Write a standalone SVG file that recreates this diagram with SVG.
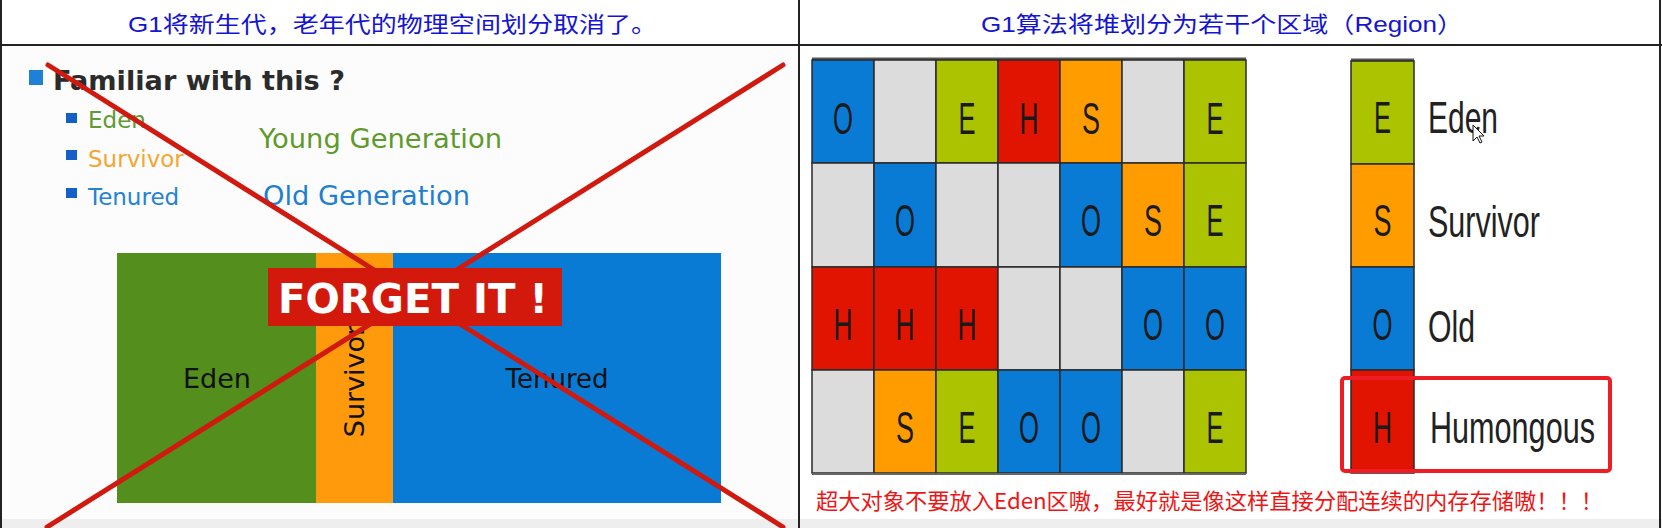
<svg xmlns="http://www.w3.org/2000/svg" width="1662" height="528" viewBox="0 0 1662 528">
<style>
.hdr{font-family:"Liberation Sans","Noto Sans CJK SC",sans-serif;font-size:22px;fill:#1414d2}
.sl{font-family:"DejaVu Sans",sans-serif}
.cell{stroke:#2a2a2a;stroke-width:1.5}
.lt{font-family:"Liberation Sans",sans-serif;font-size:45px;fill:#1a1a1a;text-anchor:middle}
.lg{font-family:"Liberation Sans",sans-serif;font-size:45px;fill:#222}
.b{fill:#0a7bd5}.g{fill:#dcdcdc}.y{fill:#abc300}.r{fill:#e01400}.o{fill:#ff9c00}
.x{stroke:#d01a10;stroke-width:5;stroke-linecap:round}
</style>
<rect x="0" y="0" width="1662" height="528" fill="#ffffff"/>
<rect x="2" y="46" width="797" height="476" fill="#fcfcfc"/>
<rect x="0" y="519" width="1662" height="9" fill="#eeeeee"/>

<g id="table">
  <line x1="1" y1="0" x2="1" y2="528" stroke="#222" stroke-width="2"/>
  <line x1="1660" y1="0" x2="1660" y2="528" stroke="#222" stroke-width="2"/>
  <line x1="0" y1="45" x2="1662" y2="45" stroke="#222" stroke-width="2"/>
  <line x1="799" y1="0" x2="799" y2="528" stroke="#222" stroke-width="2"/>
</g>

<g id="header-left"><text class="hdr" x="128" y="32" textLength="529" lengthAdjust="spacingAndGlyphs">G1将新生代，老年代的物理空间划分取消了。</text></g>
<g id="header-right"><text class="hdr" x="981" y="32" textLength="482" lengthAdjust="spacingAndGlyphs">G1算法将堆划分为若干个区域（Region）</text></g>

<g id="bullets">
  <rect x="29" y="70" width="14" height="15" fill="#1e80d6"/>
  <text class="sl" x="53" y="90" font-size="27" font-weight="bold" fill="#2b2b2b" textLength="292" lengthAdjust="spacingAndGlyphs">Familiar with this ?</text>
  <rect x="66" y="113" width="11" height="10" fill="#1560c8"/>
  <text class="sl" x="88" y="128" font-size="23" fill="#5e9b30">Eden</text>
  <rect x="66" y="150" width="11" height="10" fill="#1560c8"/>
  <text class="sl" x="88" y="167" font-size="23" fill="#f6a531">Survivor</text>
  <rect x="66" y="188" width="11" height="10" fill="#1560c8"/>
  <text class="sl" x="88" y="205" font-size="23" fill="#2383d4">Tenured</text>
  <text class="sl" x="259" y="148" font-size="26" fill="#5f9a2c" textLength="243" lengthAdjust="spacingAndGlyphs">Young Generation</text>
  <text class="sl" x="263" y="205" font-size="26" fill="#1f7fd0" textLength="207" lengthAdjust="spacingAndGlyphs">Old Generation</text>
</g>

<g id="old-heap">
  <rect x="117" y="253" width="199" height="250" fill="#548e1c"/>
  <rect x="316" y="253" width="77" height="250" fill="#ff9a0c"/>
  <rect x="393" y="253" width="328" height="250" fill="#0a7bd4"/>
  <text class="sl" x="217" y="388" font-size="27" fill="#111" text-anchor="middle">Eden</text>
  <text class="sl" transform="translate(364,381) rotate(-90)" font-size="27" fill="#111" text-anchor="middle">Survivor</text>
  <text class="sl" x="557" y="388" font-size="26" fill="#111" text-anchor="middle">Tenured</text>
</g>

<g id="connectors">
  <line class="x" x1="48" y1="65" x2="783" y2="527"/>
  <line class="x" x1="783" y1="65" x2="47" y2="527"/>
</g>

<g id="forget">
  <rect x="268" y="268" width="294" height="58" fill="#d3190c"/>
  <text class="sl" x="278" y="313" font-size="41" font-weight="bold" fill="#ffffff" textLength="270" lengthAdjust="spacingAndGlyphs">FORGET IT !</text>
</g>

<g id="region-grid">
  <line x1="812" y1="59" x2="1246" y2="59" stroke="#555" stroke-width="3"/>
  <rect class="cell b" x="812" y="60" width="62" height="103"/>
  <rect class="cell g" x="874" y="60" width="62" height="103"/>
  <rect class="cell y" x="936" y="60" width="62" height="103"/>
  <rect class="cell r" x="998" y="60" width="62" height="103"/>
  <rect class="cell o" x="1060" y="60" width="62" height="103"/>
  <rect class="cell g" x="1122" y="60" width="62" height="103"/>
  <rect class="cell y" x="1184" y="60" width="62" height="103"/>
  <rect class="cell g" x="812" y="163" width="62" height="104"/>
  <rect class="cell b" x="874" y="163" width="62" height="104"/>
  <rect class="cell g" x="936" y="163" width="62" height="104"/>
  <rect class="cell g" x="998" y="163" width="62" height="104"/>
  <rect class="cell b" x="1060" y="163" width="62" height="104"/>
  <rect class="cell o" x="1122" y="163" width="62" height="104"/>
  <rect class="cell y" x="1184" y="163" width="62" height="104"/>
  <rect class="cell r" x="812" y="267" width="62" height="103"/>
  <rect class="cell r" x="874" y="267" width="62" height="103"/>
  <rect class="cell r" x="936" y="267" width="62" height="103"/>
  <rect class="cell g" x="998" y="267" width="62" height="103"/>
  <rect class="cell g" x="1060" y="267" width="62" height="103"/>
  <rect class="cell b" x="1122" y="267" width="62" height="103"/>
  <rect class="cell b" x="1184" y="267" width="62" height="103"/>
  <rect class="cell g" x="812" y="370" width="62" height="103"/>
  <rect class="cell o" x="874" y="370" width="62" height="103"/>
  <rect class="cell y" x="936" y="370" width="62" height="103"/>
  <rect class="cell b" x="998" y="370" width="62" height="103"/>
  <rect class="cell b" x="1060" y="370" width="62" height="103"/>
  <rect class="cell g" x="1122" y="370" width="62" height="103"/>
  <rect class="cell y" x="1184" y="370" width="62" height="103"/>
  <line x1="812" y1="474" x2="1246" y2="474" stroke="#666" stroke-width="2"/>
  <text class="lt" x="843" y="134" textLength="20" lengthAdjust="spacingAndGlyphs">O</text>
  <text class="lt" x="967" y="134" textLength="17" lengthAdjust="spacingAndGlyphs">E</text>
  <text class="lt" x="1029" y="134" textLength="19" lengthAdjust="spacingAndGlyphs">H</text>
  <text class="lt" x="1091" y="134" textLength="18" lengthAdjust="spacingAndGlyphs">S</text>
  <text class="lt" x="1215" y="134" textLength="17" lengthAdjust="spacingAndGlyphs">E</text>
  <text class="lt" x="905" y="236" textLength="20" lengthAdjust="spacingAndGlyphs">O</text>
  <text class="lt" x="1091" y="236" textLength="20" lengthAdjust="spacingAndGlyphs">O</text>
  <text class="lt" x="1153" y="236" textLength="18" lengthAdjust="spacingAndGlyphs">S</text>
  <text class="lt" x="1215" y="236" textLength="17" lengthAdjust="spacingAndGlyphs">E</text>
  <text class="lt" x="843" y="340" textLength="19" lengthAdjust="spacingAndGlyphs">H</text>
  <text class="lt" x="905" y="340" textLength="19" lengthAdjust="spacingAndGlyphs">H</text>
  <text class="lt" x="967" y="340" textLength="19" lengthAdjust="spacingAndGlyphs">H</text>
  <text class="lt" x="1153" y="340" textLength="20" lengthAdjust="spacingAndGlyphs">O</text>
  <text class="lt" x="1215" y="340" textLength="20" lengthAdjust="spacingAndGlyphs">O</text>
  <text class="lt" x="905" y="443" textLength="18" lengthAdjust="spacingAndGlyphs">S</text>
  <text class="lt" x="967" y="443" textLength="17" lengthAdjust="spacingAndGlyphs">E</text>
  <text class="lt" x="1029" y="443" textLength="20" lengthAdjust="spacingAndGlyphs">O</text>
  <text class="lt" x="1091" y="443" textLength="20" lengthAdjust="spacingAndGlyphs">O</text>
  <text class="lt" x="1215" y="443" textLength="17" lengthAdjust="spacingAndGlyphs">E</text>
</g>

<g id="legend">
  <line x1="1351" y1="60" x2="1414" y2="60" stroke="#555" stroke-width="3"/>
  <rect class="cell y" x="1351" y="61" width="63" height="103"/>
  <rect class="cell o" x="1351" y="164" width="63" height="103"/>
  <rect class="cell b" x="1351" y="267" width="63" height="103"/>
  <rect class="cell r" x="1351" y="370" width="63" height="103"/>
  <text class="lt" x="1382.5" y="133" textLength="17" lengthAdjust="spacingAndGlyphs">E</text>
  <text class="lt" x="1382.5" y="236" textLength="18" lengthAdjust="spacingAndGlyphs">S</text>
  <text class="lt" x="1382.5" y="340" textLength="20" lengthAdjust="spacingAndGlyphs">O</text>
  <text class="lt" x="1382.5" y="443" textLength="19" lengthAdjust="spacingAndGlyphs">H</text>
  <text class="lg" x="1428" y="133" textLength="70" lengthAdjust="spacingAndGlyphs">Eden</text>
  <text class="lg" x="1428" y="237" textLength="112" lengthAdjust="spacingAndGlyphs">Survivor</text>
  <text class="lg" x="1428" y="342" textLength="47" lengthAdjust="spacingAndGlyphs">Old</text>
  <text class="lg" transform="translate(1430,443) scale(0.68,1)" x="0" y="0" font-size="44">Humongous</text>
  <polygon points="1473,125 1473,141 1477,137 1480,143 1482,142 1479,136 1484,136" fill="#fff" stroke="#111" stroke-width="1"/>
</g>

<g id="highlight">
  <rect x="1342" y="378" width="268" height="93" rx="3" fill="none" stroke="#ee1c25" stroke-width="4"/>
</g>

<g id="note">
  <text x="816" y="509" font-family="'Noto Sans CJK SC',sans-serif" font-size="22" fill="#ee1515" textLength="787" lengthAdjust="spacingAndGlyphs">超大对象不要放入Eden区嗷，最好就是像这样直接分配连续的内存存储嗷！！！</text>
</g>
</svg>
